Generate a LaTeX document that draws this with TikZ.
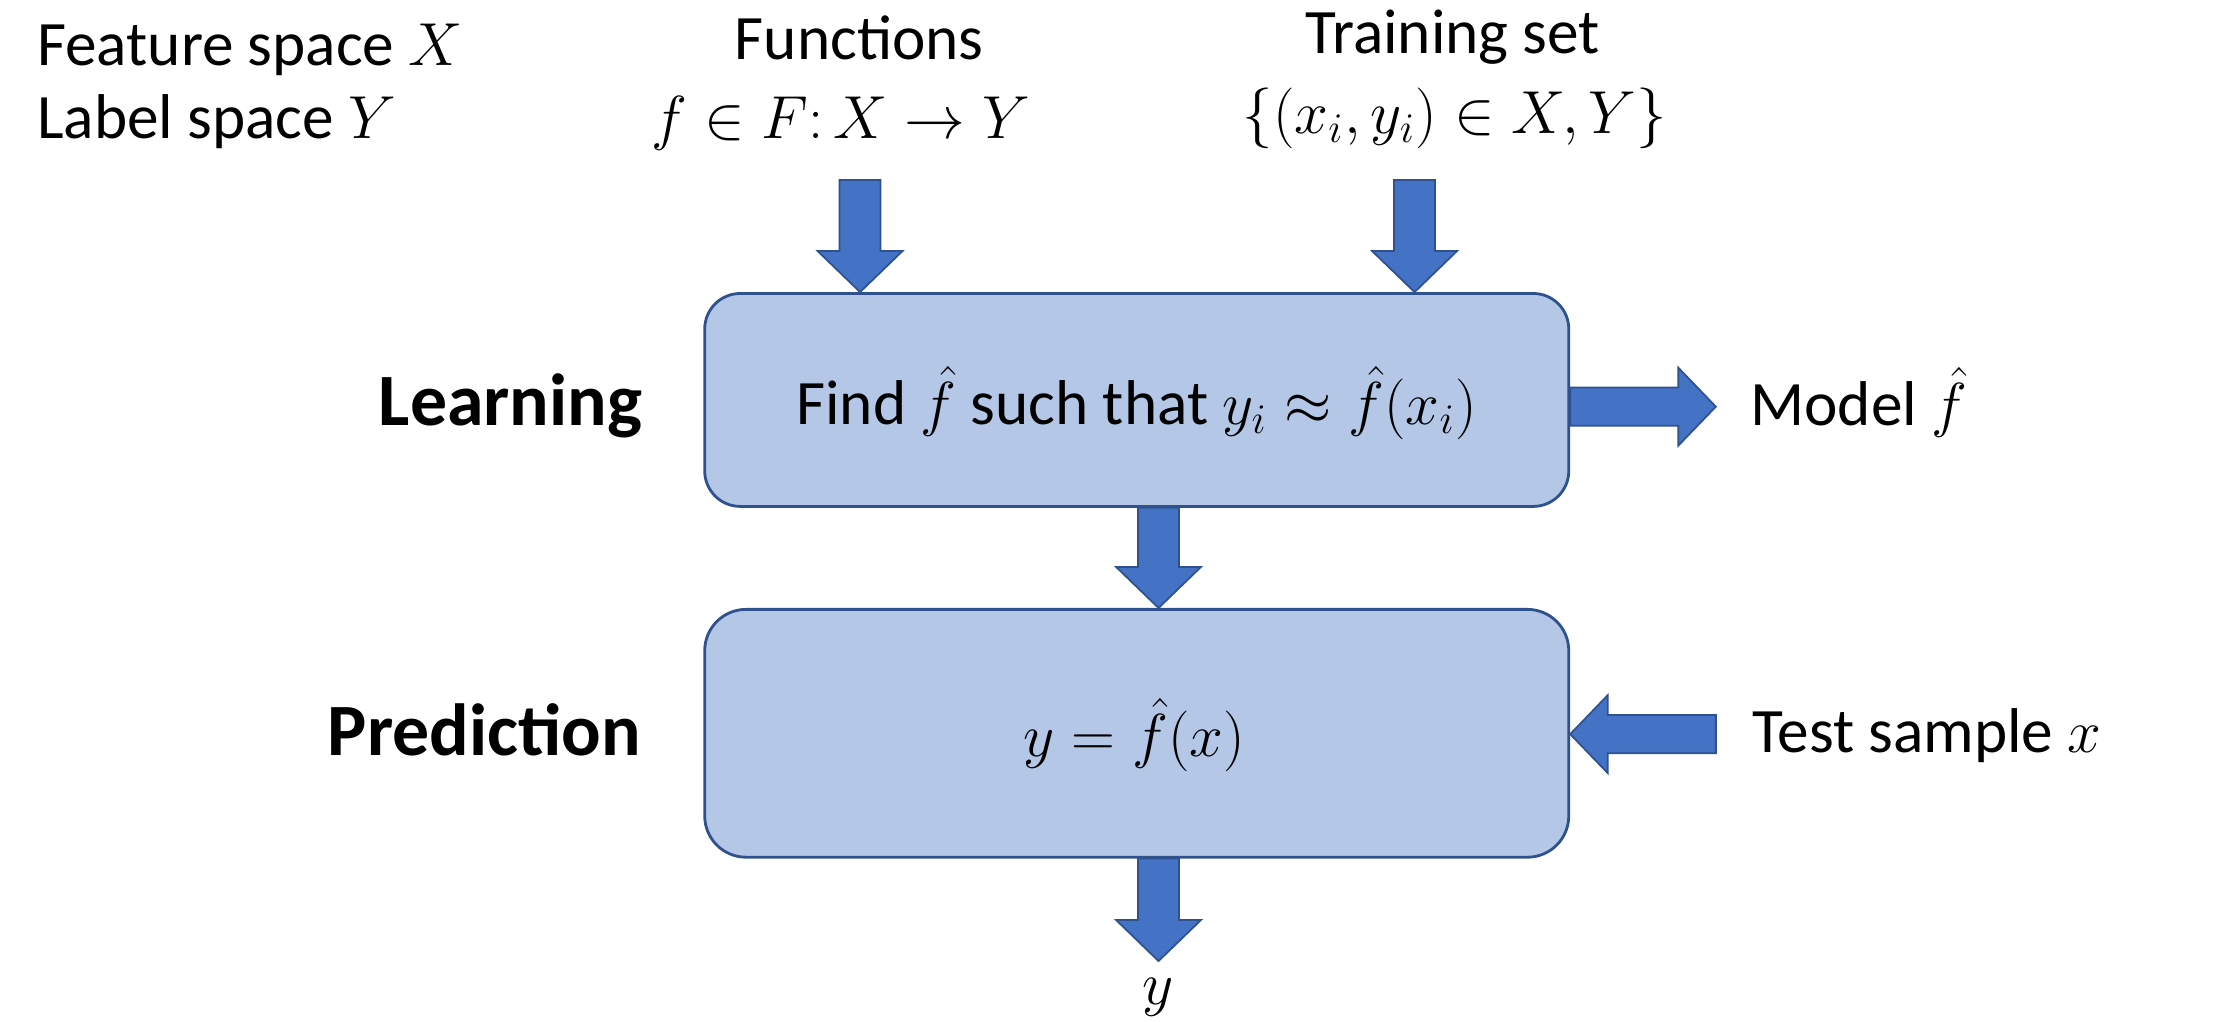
\documentclass[tikz,border=0pt]{standalone}
\usepackage{fontspec}
\setmainfont{Carlito}
\usetikzlibrary{calc}
\definecolor{boxfill}{HTML}{B4C7E7}
\definecolor{boxline}{HTML}{2F528F}
\definecolor{arrfill}{HTML}{4472C4}
\tikzset{
  txt/.style={inner sep=0pt, font=\fontsize{18}{21.6}\selectfont},
  boldlbl/.style={inner sep=0pt, font=\fontsize{21}{25}\selectfont\bfseries},
  stage/.style={draw=boxline, fill=boxfill, line width=0.8pt, inner sep=0pt, minimum width=86.4mm},
  blockarrow/.style={fill=arrfill, draw=boxline, line width=0.5pt, line join=miter},
  downarr/.style={to path={let \p1=(\tikztostart), \p2=(\tikztotarget) in
     (\x1-5.84pt,\y1) -- (\x1-5.84pt,\y2+11.67pt) -- (\x1-12.07pt,\y2+11.67pt) -- (\x1,\y2)
     -- (\x1+12.07pt,\y2+11.67pt) -- (\x1+5.84pt,\y2+11.67pt) -- (\x1+5.84pt,\y1) -- cycle}},
  rightarr/.style={to path={let \p1=(\tikztostart), \p2=(\tikztotarget) in
     (\x1,\y1+5.43pt) -- (\x2-10.67pt,\y1+5.43pt) -- (\x2-10.67pt,\y1+11.07pt) -- (\x2,\y1)
     -- (\x2-10.67pt,\y1-11.07pt) -- (\x2-10.67pt,\y1-5.43pt) -- (\x1,\y1-5.43pt) -- cycle}},
  leftarr/.style={to path={let \p1=(\tikztostart), \p2=(\tikztotarget) in
     (\x1,\y1+5.43pt) -- (\x2+10.67pt,\y1+5.43pt) -- (\x2+10.67pt,\y1+11.07pt) -- (\x2,\y1)
     -- (\x2+10.67pt,\y1-11.07pt) -- (\x2+10.67pt,\y1-5.43pt) -- (\x1,\y1-5.43pt) -- cycle}}
}
\begin{document}
\begin{tikzpicture}[x=0.14145mm, y=-0.14145mm]
\useasboundingbox (0,0) rectangle (1568,722);
% top texts
\node[txt, anchor=base west] (feat) at (25.8,46) {Feature space $X$};
\node[txt, anchor=base west] (labsp) at (25.8,97.8) {Label space $Y$};
\node[txt, anchor=base] (func) at (607.5,42.4) {Functions};
\node[txt, anchor=base] (funcm) at (594.6,97.8) {$f\in F{:}\,X\to Y$};
\node[txt, anchor=base] (train) at (1027,37.7) {Training set};
\node[txt, anchor=base] (trainm) at (1028.5,94.3) {$\{(x_i,y_i)\in X,Y\}$};
% boxes
\node[stage, rounded corners=10.1pt, minimum height=21.29mm] (learn) at (803.6,282.75) {};
\node[stage, rounded corners=11.76pt, minimum height=24.78mm] (pred) at (803.6,518.4) {};
\node[txt, anchor=base] (findtxt) at (803.5,300) {Find $\hat f$ such that $y_i\approx\hat f(x_i)$};
\node[txt, anchor=base] (predtxt) at (801.8,535) {$y=\hat f(x)$};
\node[boldlbl, anchor=base east] (learnlbl) at (454.6,301) {Learning};
\node[boldlbl, anchor=base east] (predlbl) at (453.6,534) {Prediction};
\node[txt, anchor=base west] (model) at (1237,300.5) {Model $\hat f$};
\node[txt, anchor=base west] (test) at (1238.4,532) {Test sample $x$};
\node[txt, anchor=base] (yout) at (819,710) {$y$};
% arrow ends
\coordinate (ta1) at (608,127.3);
\coordinate (ta2) at (1000,127.3);
\coordinate (mtip) at (1213,287.5);
\coordinate (ttail) at (1213,519);
\coordinate (ytip) at (819,679.4);
% block arrows
\draw[blockarrow, downarr] (ta1) to (ta1 |- learn.north);
\draw[blockarrow, downarr] (ta2) to (ta2 |- learn.north);
\draw[blockarrow, downarr] (learn.south -| ytip) to (pred.north -| ytip);
\draw[blockarrow, downarr] (pred.south -| ytip) to (ytip);
\draw[blockarrow, rightarr] (learn.east |- mtip) to (mtip);
\draw[blockarrow, leftarr] (ttail) to (pred.east |- ttail);
\end{tikzpicture}
\end{document}
